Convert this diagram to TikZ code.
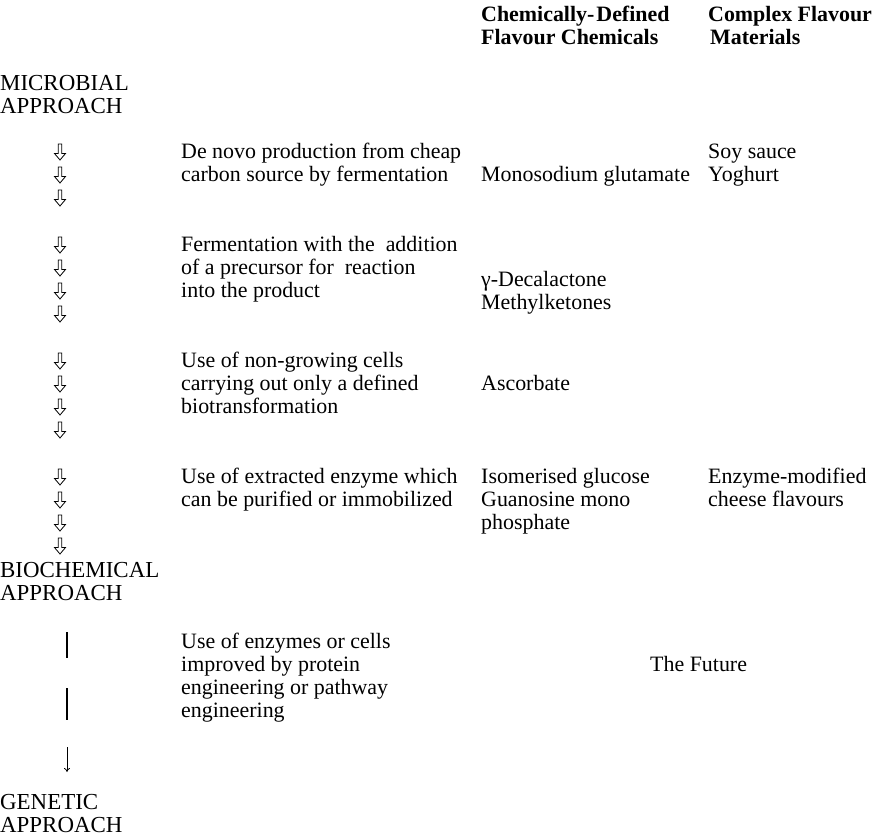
\documentclass[tikz,border=0pt]{standalone}
\usepackage{fontspec}
\setmainfont{Liberation Serif}
\usetikzlibrary{arrows.meta}
% one line of text, placed by its baseline
\newcommand\txtline[4]{\node[txt] (#1) at (#2,#3) {#4};}
\newcommand\capline[4]{\node[caps] (#1) at (#2,#3) {#4};}
\begin{document}
\begin{tikzpicture}[x=1bp,y=-1bp,
  txt/.style={anchor=base west,inner sep=0pt,font=\fontsize{22}{24}\selectfont},
  caps/.style={txt,font=\fontsize{23}{25}\selectfont},
  head/.style={txt,font=\fontsize{22}{24}\selectfont\bfseries},
  bar/.style={line width=1.1bp},
  hollow/.pic={\draw[line width=0.8bp,line join=miter]
     (-1.7,-8) -- (1.7,-8) -- (1.7,1.5) -- (5.5,1.5) -- (0,8) -- (-5.5,1.5) -- (-1.7,1.5) -- cycle;}]
\useasboundingbox (0,0) rectangle (875,837);

% column headings
\node[head] (h1a) at (481,21) {Chemically-\kern2bp Defined};
\node[head] (h1b) at (481,44) {Flavour Chemicals};
\node[head] (h2a) at (708,21) {Complex Flavour};
\node[head] (h2b) at (710,44) {Materials};

% approach labels
\capline{mic1}{0}{90}{MICROBIAL}
\capline{mic2}{0}{113}{APPROACH}
\capline{bio1}{0}{577}{BIOCHEMICAL}
\capline{bio2}{0}{600}{APPROACH}
\capline{gen1}{0}{809}{GENETIC}
\capline{gen2}{0}{832}{APPROACH}

% hollow arrows down the left column
\foreach \y in {152,175,198, 245,268,291,314, 361,384,407,430, 477,500,523,546}
  \pic at (60,\y) {hollow};

% process descriptions
\txtline{p1a}{181}{158}{De novo production from cheap}
\txtline{p1b}{181}{181}{carbon source by fermentation}
\txtline{p2a}{181}{251}{Fermentation with the\ \ addition}
\txtline{p2b}{181}{274}{of a precursor for\ \ reaction}
\txtline{p2c}{181}{297}{into the product}
\txtline{p3a}{181}{367}{Use of non-growing cells}
\txtline{p3b}{181}{390}{carrying out only a defined}
\txtline{p3c}{181}{413}{biotransformation}
\txtline{p4a}{181}{483}{Use of extracted enzyme which}
\txtline{p4b}{181}{506}{can be purified or immobilized}
\txtline{p5a}{181}{648}{Use of enzymes or cells}
\txtline{p5b}{181}{671}{improved by protein}
\txtline{p5c}{181}{694}{engineering or pathway}
\txtline{p5d}{181}{717}{engineering}

% chemically-defined products
\txtline{c1}{481}{181}{Monosodium glutamate}
\txtline{c2a}{481}{286}{γ-Decalactone}
\txtline{c2b}{481}{309}{Methylketones}
\txtline{c3}{481}{390}{Ascorbate}
\txtline{c4a}{481}{483}{Isomerised glucose}
\txtline{c4b}{481}{506}{Guanosine mono}
\txtline{c4c}{481}{529}{phosphate}

% complex flavour materials
\txtline{m1a}{708}{158}{Soy sauce}
\txtline{m1b}{708}{181}{Yoghurt}
\txtline{m4a}{708}{483}{Enzyme-modified}
\txtline{m4b}{708}{506}{cheese flavours}
\txtline{fut}{650}{671}{The Future}

% link from the biochemical to the genetic approach
\coordinate (b1s) at (67,632);
\coordinate (b1e) at (67,658);
\coordinate (b2s) at (67,688);
\coordinate (b2e) at (67,720);
\coordinate (a3s) at (67,747);
\coordinate (a3e) at (67,772);
\draw[bar] (b1s) -- (b1e);
\draw[bar] (b2s) -- (b2e);
\draw[line width=0.8bp,-{To[length=4bp,width=6bp]}] (a3s) -- (a3e);
\end{tikzpicture}
\end{document}
